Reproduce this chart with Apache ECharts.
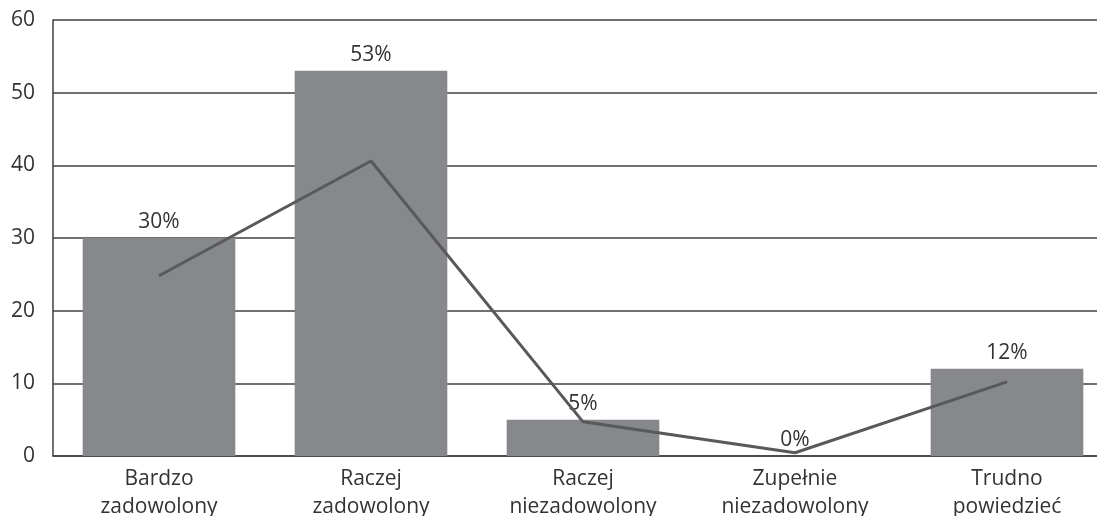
<!DOCTYPE html>
<html>
<head>
<meta charset="utf-8">
<script src="https://cdn.jsdelivr.net/npm/echarts@6/dist/echarts.min.js"></script>
<style>
  html, body { margin: 0; padding: 0; background: #ffffff; overflow: hidden; }
  /* canvas is a bit wider than the window: the plot runs past the right edge */
  #chart { width: 1113px; height: 516px; }
</style>
</head>
<body>
<div id="chart"></div>
<script>
// Survey answers (percent of respondents)
const categories = [
  'Bardzo\nzadowolony',
  'Raczej\nzadowolony',
  'Raczej\nniezadowolony',
  'Zupełnie\nniezadowolony',
  'Trudno\npowiedzieć'
];
const barValues = [30, 53, 5, 0, 12];
const lineValues = [24.8, 40.6, 4.7, 0.45, 10.2];
const yTicks = { min: 0, max: 60, interval: 10 };

const FONT = '"Open Sans"';
const TEXT = '#333333';

const chart = echarts.init(document.getElementById('chart'), null, { renderer: 'canvas' });
chart.setOption({
  animation: false,
  backgroundColor: '#ffffff',
  grid: {
    left: 53, top: 20, right: 0, bottom: 60,
    containLabel: false, outerBoundsMode: 'none'
  },
  xAxis: {
    type: 'category',
    data: categories,
    axisLine: { show: true, lineStyle: { color: '#404040', width: 1.5 } },
    axisTick: { show: false },
    axisLabel: {
      color: TEXT, fontFamily: FONT, fontSize: 21, lineHeight: 28, margin: 9
    }
  },
  yAxis: {
    type: 'value',
    min: yTicks.min, max: yTicks.max, interval: yTicks.interval,
    axisLine: { show: true, lineStyle: { color: '#404040', width: 1.5 } },
    axisTick: { show: false },
    splitLine: { show: true, lineStyle: { color: '#404040', width: 1.5 } },
    axisLabel: {
      color: TEXT, fontFamily: FONT, fontSize: 21, margin: 18, padding: [9, 0, 0, 0]
    }
  },
  series: [
    {
      type: 'bar',
      data: barValues,
      barCategoryGap: '28%',
      itemStyle: { color: '#87888c' },
      label: {
        show: true, position: 'top', distance: 5,
        formatter: p => p.value + '%',
        color: TEXT, fontFamily: FONT, fontSize: 21
      },
      z: 2
    },
    {
      type: 'line',
      data: lineValues,
      symbol: 'none',
      lineStyle: { color: '#58595b', width: 3 },
      z: 3
    }
  ]
});
</script>
</body>
</html>
